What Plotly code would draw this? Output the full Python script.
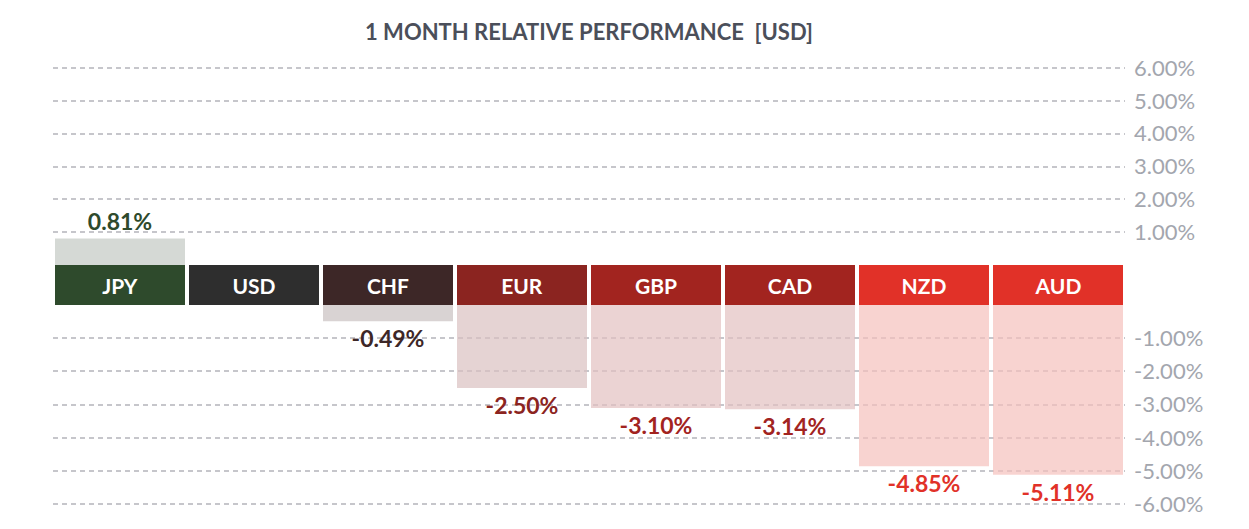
import plotly.graph_objects as go
from plotly.subplots import make_subplots

# ---- data ----
currencies = ["JPY", "USD", "CHF", "EUR", "GBP", "CAD", "NZD", "AUD"]
performance = [0.81, 0.00, -0.49, -2.50, -3.10, -3.14, -4.85, -5.11]
pos_tick_values = [1, 2, 3, 4, 5, 6]
neg_tick_values = [-1, -2, -3, -4, -5, -6]
title_text = "1 MONTH RELATIVE PERFORMANCE\u00a0\u00a0[USD]"

# ---- styles ----
header_colors = ["#2e4a2c", "#2e2e2e", "#3d2727", "#8b2420", "#a2241f", "#a2241f", "#e13128", "#e13128"]
bar_colors = ["#d5d9d5", "#dddddd", "#d9d3d3", "#e5d3d3", "#ebd3d3", "#ebd3d3", "#f8d3d0", "#f8d3d0"]
FONT = "Lato, 'Open Sans', sans-serif"


def translucent(hex_color, alpha=0.7):
    h = hex_color.lstrip("#")
    r, g, b = (int(h[i:i + 2], 16) for i in (0, 2, 4))
    f = lambda c: max(0, min(255, round(255 - (255 - c) / alpha)))
    return f"rgba({f(r)},{f(g)},{f(b)},{alpha})"


fill_colors = [translucent(c) for c in bar_colors]

# page body has an 8px margin; work in screen pixels and convert
OFF = 8
W, H = 1249 - OFF, 529 - OFF
S_LEFT, S_RIGHT = 53, 1125          # plot area, screen px
S_TOP, S_BOT = 65, 512
S_BAND_TOP, S_BAND_BOT = 266, 306
ML = S_LEFT - OFF
MR = W - (S_RIGHT - OFF)
MT = S_TOP - OFF
MB = H - (S_BOT - OFF)
scale_top = 33.0   # px per 1% (upper panel)
scale_bot = 33.4   # px per 1% (lower panel)
plot_h = S_BOT - S_TOP


def frac(y):
    return (S_BOT - y) / plot_h


pos_vals = [v if v > 0 else None for v in performance]
neg_vals = [v if v < 0 else None for v in performance]
pos_text = [f"{v:.2f}%" if v > 0 else "" for v in performance]
neg_text = [f"{v:.2f}%" if v < 0 else "" for v in performance]

fig = make_subplots(rows=3, cols=1, shared_xaxes=True, vertical_spacing=0)

fig.add_trace(go.Bar(
    x=currencies, y=pos_vals, marker=dict(color=fill_colors, line=dict(width=0)),
    text=pos_text, textposition="outside", cliponaxis=False,
    textfont=dict(family=FONT, size=23, color=header_colors, weight="bold"),
    hoverinfo="skip"), row=1, col=1)

fig.add_trace(go.Bar(
    x=currencies, y=[1] * len(currencies), marker=dict(color=header_colors, line=dict(width=0)),
    text=currencies, textposition="inside", insidetextanchor="middle", textangle=0,
    constraintext="none",
    textfont=dict(family=FONT, size=21, color="white", weight="bold"),
    hoverinfo="skip"), row=2, col=1)

fig.add_trace(go.Bar(
    x=currencies, y=neg_vals, marker=dict(color=fill_colors, line=dict(width=0)),
    text=neg_text, textposition="outside", cliponaxis=False,
    textfont=dict(family=FONT, size=23, color=header_colors, weight="bold"),
    hoverinfo="skip"), row=3, col=1)

grid_style = dict(showgrid=True, gridcolor="#c6c6cb", griddash="5px,4px", gridwidth=1.5,
                  zeroline=False, showline=False, ticks="", side="right",
                  tickfont=dict(family=FONT, size=22, color="#a3a6ae"),
                  ticklabelstandoff=8, fixedrange=True)

fig.update_layout(
    width=W, height=H, margin=dict(l=ML, r=MR, t=MT, b=MB),
    paper_bgcolor="white", plot_bgcolor="white",
    showlegend=False, bargap=4 / 134,
    title=dict(text=title_text, x=0.5, xref="paper", y=1 - (32 - OFF) / H, yanchor="middle",
               font=dict(family=FONT, size=22, color="#4b4f5a", weight="bold")),
    yaxis=dict(domain=[frac(S_BAND_TOP), 1], range=[0, (S_BAND_TOP - S_TOP) / scale_top],
               tickvals=pos_tick_values, ticktext=[f"{v:.2f}%" for v in pos_tick_values], **grid_style),
    yaxis2=dict(domain=[frac(S_BAND_BOT), frac(S_BAND_TOP)], range=[0, 1], showgrid=False,
                zeroline=False, showticklabels=False, fixedrange=True),
    yaxis3=dict(domain=[0, frac(S_BAND_BOT)], range=[-(S_BOT - S_BAND_BOT) / scale_bot, 0],
                tickvals=neg_tick_values, ticktext=[f"{v:.2f}%" for v in neg_tick_values], **grid_style),
)

for ax in ("xaxis", "xaxis2", "xaxis3"):
    fig.layout[ax].update(showticklabels=False, showgrid=False, zeroline=False, showline=False,
                          ticks="", range=[-0.5, len(currencies) - 0.5], fixedrange=True)

fig.write_html("out.html")
